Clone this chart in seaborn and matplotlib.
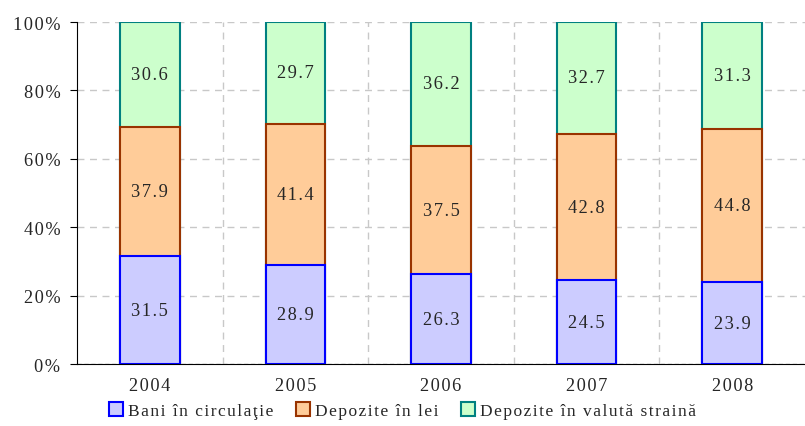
import numpy as np
import pandas as pd
import matplotlib
matplotlib.use("Agg")
import matplotlib.pyplot as plt
import seaborn as sns
from matplotlib.patches import Patch

years = ["2004", "2005", "2006", "2007", "2008"]
bani = [31.5, 28.9, 26.3, 24.5, 23.9]
lei = [37.9, 41.4, 37.5, 42.8, 44.8]
valuta = [30.6, 29.7, 36.2, 32.7, 31.3]
series_names = ["Bani în circulaţie", "Depozite în lei", "Depozite în valută straină"]

fills = ["#CCCCFF", "#FFCC99", "#CCFFCC"]
edges = ["#0000FF", "#993300", "#008080"]

sns.set_style("white")
plt.rcParams["font.family"] = ["Liberation Serif", "DejaVu Serif"]
FS = 13.2


def spaced(s):
    # the original uses wide letter spacing
    return "\u200a".join(s)


fig = plt.figure(figsize=(8.05, 4.27), dpi=100)
ax = fig.add_axes([0.0957, 0.145, 0.9043, 0.801])

df = pd.DataFrame({"year": years, "bani": bani, "lei": lei, "valuta": valuta})
df["top_lei"] = df["bani"] + df["lei"]
df["top_all"] = df["top_lei"] + df["valuta"]

# stacked by drawing cumulative heights back to front
for col, fc, ec in [("top_all", fills[2], edges[2]), ("top_lei", fills[1], edges[1]), ("bani", fills[0], edges[0])]:
    sns.barplot(data=df, x="year", y=col, color=fc, edgecolor=ec, linewidth=1.5,
                width=0.41, saturation=1, ax=ax, zorder=3)

for i in range(len(years)):
    ax.text(i, bani[i] / 2, spaced(f"{bani[i]:.1f}"), ha="center", va="center", fontsize=FS, zorder=5)
    ax.text(i, bani[i] + lei[i] / 2, spaced(f"{lei[i]:.1f}"), ha="center", va="center", fontsize=FS, zorder=5)
    ax.text(i, bani[i] + lei[i] + valuta[i] / 2, spaced(f"{valuta[i]:.1f}"), ha="center", va="center",
            fontsize=FS, zorder=5)

ax.set_xlim(-0.5, 4.5)
ax.set_ylim(0, 100)
ax.set_yticks(np.arange(0, 101, 20))
ax.set_yticklabels([spaced(f"{v}%") for v in range(0, 101, 20)], fontsize=FS)
ax.set_xticks(range(len(years)))
ax.set_xticklabels([spaced(y) for y in years], fontsize=FS)
ax.set_xticks(np.arange(0.5, 4.5, 1), minor=True)
ax.tick_params(axis="x", which="major", length=0, pad=9)
ax.tick_params(axis="x", which="minor", length=5, direction="out", color="black")
ax.tick_params(axis="y", length=5, direction="out", color="black", left=True, pad=7)
ax.set_xlabel("")
ax.set_ylabel("")

ax.grid(False)
for y in range(20, 101, 20):
    ax.axhline(y, color="#C8C8C8", linestyle=(0, (5, 4)), linewidth=1, zorder=0)
ax.axhline(0, color="#A0A0A0", linestyle=(0, (3, 2)), linewidth=1, zorder=0)
for x in np.arange(0.5, 4.5, 1):
    ax.axvline(x, color="#C8C8C8", linestyle=(0, (5, 4)), linewidth=1, zorder=0)

for s in ["top", "right"]:
    ax.spines[s].set_visible(False)
ax.spines["left"].set_color("black")
ax.spines["bottom"].set_color("black")

handles = [Patch(facecolor=fills[k], edgecolor=edges[k], linewidth=1.5) for k in range(3)]
fig.legend(handles, [spaced(n) for n in series_names], loc="lower center", bbox_to_anchor=(0.5, -0.02),
           ncol=3, frameon=False, fontsize=12.5, handlelength=0.8, handleheight=0.8, handletextpad=0.3,
           columnspacing=1.3)

fig.savefig("out.png", dpi=100)
